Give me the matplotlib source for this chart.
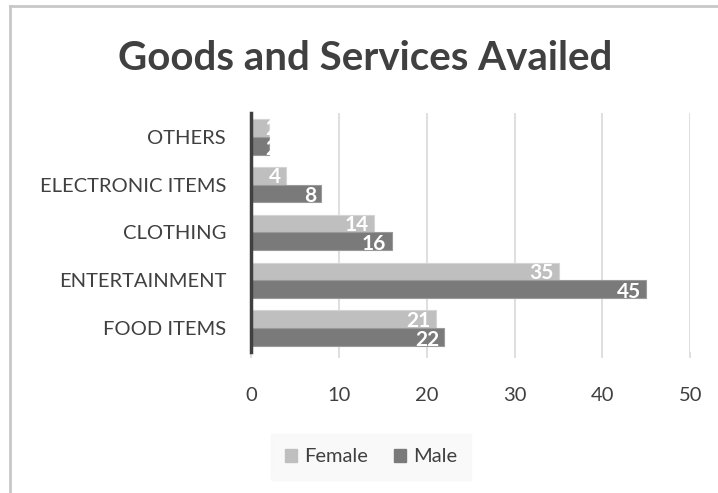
import numpy as np
import matplotlib
matplotlib.use("Agg")
import matplotlib.pyplot as plt
from matplotlib.patches import Rectangle
from matplotlib.lines import Line2D

plt.rcParams["font.family"] = ["Lato", "DejaVu Sans"]

categories = ["FOOD ITEMS", "ENTERTAINMENT", "CLOTHING", "ELECTRONIC ITEMS", "OTHERS"]
female = [21, 35, 14, 4, 2]
male = [22, 45, 16, 8, 2]
x_ticks = [0, 10, 20, 30, 40, 50]

FEMALE_COLOR = "#bfbfbf"
MALE_COLOR = "#7a7a7a"
TEXT_COLOR = "#404040"

fig = plt.figure(figsize=(7.18, 4.93), dpi=100)
ax = fig.add_axes([0.3496, 0.286, 0.6118, 0.485])

y = np.arange(len(categories))
h = 0.37
ax.barh(y + h / 2, female, height=h, color=FEMALE_COLOR, edgecolor="#d4d4d4", linewidth=0.8, label="Female", zorder=3)
ax.barh(y - h / 2, male, height=h, color=MALE_COLOR, edgecolor="#9a9a9a", linewidth=0.8, label="Male", zorder=3)

# value labels: inside the bar end, white; very short bars push them past the end
def put_label(v, yc):
    if v >= 4:
        ax.text(v - 0.6, yc, str(v), ha="right", va="center", color="white",
                fontsize=15, fontweight="bold", zorder=4)
    else:
        ax.text(v - 0.35, yc, str(v), ha="left", va="center", color="white",
                fontsize=15, fontweight="bold", zorder=4)

for yi, v in zip(y, female):
    put_label(v, yi + h / 2 - 0.03)
for yi, v in zip(y, male):
    put_label(v, yi - h / 2 - 0.06)

ax.set_xlim(0, 50)
ax.set_ylim(-0.5, len(categories) - 0.5)
ax.set_xticks(x_ticks)
ax.set_yticks(y)
ax.set_yticklabels(categories)
ax.grid(axis="x", color="#d9d9d9", linewidth=1.2, zorder=0)
for s in ["top", "right", "bottom"]:
    ax.spines[s].set_visible(False)
ax.spines["left"].set_color("#404040")
ax.spines["left"].set_linewidth(2.5)
ax.spines["left"].set_zorder(5)
ax.tick_params(axis="y", length=0, pad=18, labelsize=14.5, labelcolor=TEXT_COLOR)
ax.tick_params(axis="x", length=4, width=1.2, color="#d9d9d9", pad=21, labelsize=14.5, labelcolor=TEXT_COLOR)

fig.text(0.508, 0.882, "Goods and Services Availed", ha="center", va="center",
         fontsize=29, fontweight="bold", color=TEXT_COLOR)

# frame lines on the left and top
fig.add_artist(Line2D([10 / 718, 10 / 718], [0, 1 - 6 / 493], color="#c8c8c8", linewidth=2))
fig.add_artist(Line2D([10 / 718, 1], [1 - 6 / 493, 1 - 6 / 493], color="#c8c8c8", linewidth=2))

handles = [Rectangle((0, 0), 1, 1, color=FEMALE_COLOR), Rectangle((0, 0), 1, 1, color=MALE_COLOR)]
leg = fig.legend(handles, ["Female", "Male"], loc="center", bbox_to_anchor=(371 / 718, 1 - 457 / 493),
                 ncol=2, frameon=True, fontsize=14.5, handlelength=0.6, handleheight=0.6,
                 handletextpad=0.35, columnspacing=1.3, borderpad=0.7, fancybox=False)
leg.get_frame().set_facecolor("#f8f8f8")
leg.get_frame().set_edgecolor("#f8f8f8")
for t in leg.get_texts():
    t.set_color(TEXT_COLOR)

fig.savefig("out.png", dpi=100, facecolor="white")
